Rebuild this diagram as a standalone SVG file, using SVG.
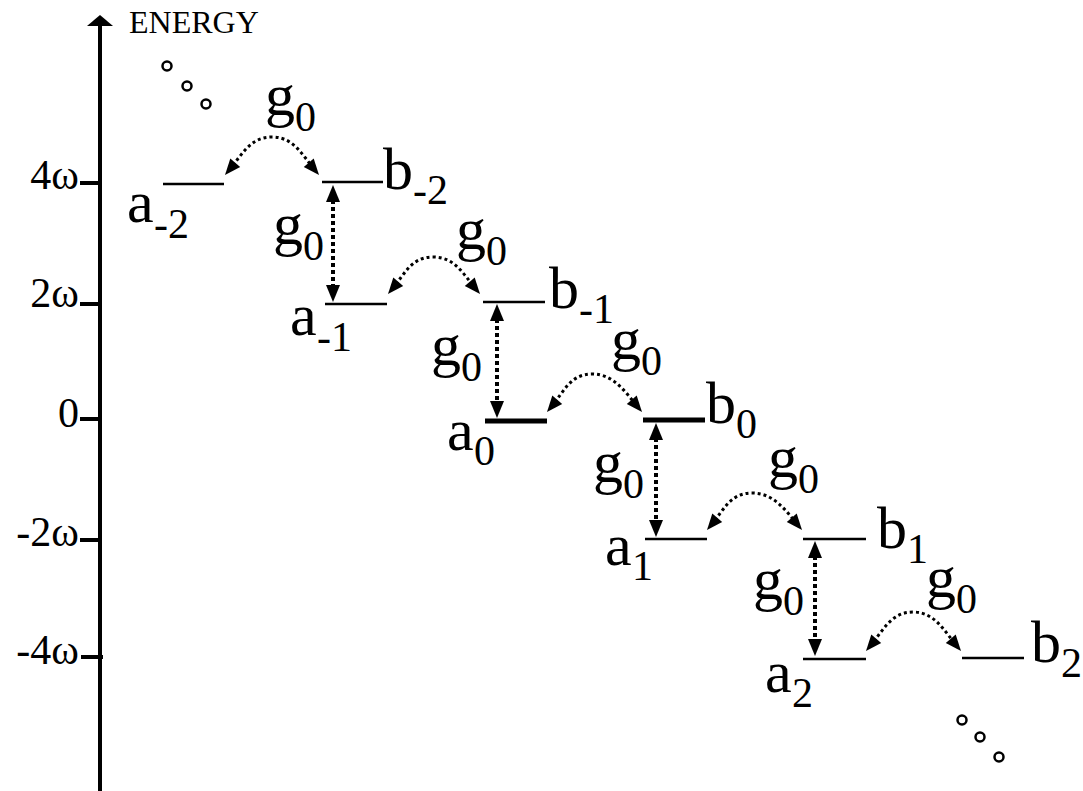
<svg xmlns="http://www.w3.org/2000/svg" xmlns:xlink="http://www.w3.org/1999/xlink" width="1083" height="791" viewBox="0 0 1083 791">
<defs>
<path id="hU" d="M0,0 L-7,17 L7,17 z" fill="#000"/>
<path id="hD" d="M0,0 L-7,-17 L7,-17 z" fill="#000"/>
<path id="hL" d="M0,0 L15.2,-8.1 L5.3,-16.5 z" fill="#000"/>
<path id="hR" d="M0,0 L-5.3,-16.5 L-15.2,-8.1 z" fill="#000"/>
</defs>
<rect width="1083" height="791" fill="#fff"/>
<g id="axis">
<line x1="100" y1="22" x2="100" y2="791" stroke="#000" stroke-width="4"/>
<path d="M100,15 L113,26 L87,26 z" fill="#000"/>
<text x="129" y="33" font-family="Liberation Serif" font-size="32">ENERGY</text>
<line x1="80" y1="183" x2="102" y2="183" stroke="#000" stroke-width="4"/>
<line x1="80" y1="304" x2="102" y2="304" stroke="#000" stroke-width="4"/>
<line x1="80" y1="419" x2="102" y2="419" stroke="#000" stroke-width="4"/>
<line x1="80" y1="540" x2="102" y2="540" stroke="#000" stroke-width="4"/>
<line x1="81" y1="657" x2="103" y2="657" stroke="#000" stroke-width="4"/>
<text x="79" y="189" text-anchor="end" font-family="Liberation Serif" font-size="42">4ω</text>
<text x="79" y="307" text-anchor="end" font-family="Liberation Serif" font-size="42">2ω</text>
<text x="79" y="427" text-anchor="end" font-family="Liberation Serif" font-size="42">0</text>
<text x="79" y="546" text-anchor="end" font-family="Liberation Serif" font-size="42">-2ω</text>
<text x="79" y="664" text-anchor="end" font-family="Liberation Serif" font-size="42">-4ω</text>
</g>
<g id="dots-top" fill="none" stroke="#000" stroke-width="2.5">
<circle cx="167" cy="66" r="4.5"/>
<circle cx="187" cy="86" r="4.5"/>
<circle cx="206" cy="104" r="4.5"/>
</g>
<g id="dots-bottom" fill="none" stroke="#000" stroke-width="2.5">
<circle cx="962" cy="720" r="4.5"/>
<circle cx="980" cy="737" r="4.5"/>
<circle cx="999" cy="757" r="4.5"/>
</g>
<g id="a-2"><line x1="163" y1="184" x2="224" y2="184" stroke="#000" stroke-width="2.5"/><text x="127" y="222" font-family="Liberation Serif" font-size="60">a</text><text x="154" y="238" font-family="Liberation Serif" font-size="42">-2</text></g>
<g id="b-2"><line x1="322" y1="182" x2="383" y2="182" stroke="#000" stroke-width="2.5"/><text x="383" y="189" font-family="Liberation Serif" font-size="60">b</text><text x="413" y="204" font-family="Liberation Serif" font-size="42">-2</text></g>
<g id="a-1"><line x1="325" y1="304" x2="387" y2="304" stroke="#000" stroke-width="2.5"/><text x="290" y="335" font-family="Liberation Serif" font-size="60">a</text><text x="317" y="351" font-family="Liberation Serif" font-size="42">-1</text></g>
<g id="b-1"><line x1="483" y1="302" x2="545" y2="302" stroke="#000" stroke-width="2.5"/><text x="549" y="308" font-family="Liberation Serif" font-size="60">b</text><text x="579" y="323" font-family="Liberation Serif" font-size="42">-1</text></g>
<g id="a0"><line x1="485" y1="421" x2="547" y2="421" stroke="#000" stroke-width="5"/><text x="447" y="450" font-family="Liberation Serif" font-size="60">a</text><text x="474" y="465" font-family="Liberation Serif" font-size="42">0</text></g>
<g id="b0"><line x1="643" y1="420" x2="705" y2="420" stroke="#000" stroke-width="5"/><text x="706" y="423" font-family="Liberation Serif" font-size="60">b</text><text x="736" y="438" font-family="Liberation Serif" font-size="42">0</text></g>
<g id="a1"><line x1="645" y1="539" x2="707" y2="539" stroke="#000" stroke-width="2.5"/><text x="605" y="565" font-family="Liberation Serif" font-size="60">a</text><text x="632" y="580" font-family="Liberation Serif" font-size="42">1</text></g>
<g id="b1"><line x1="803" y1="539" x2="866" y2="539" stroke="#000" stroke-width="2.5"/><text x="877" y="548" font-family="Liberation Serif" font-size="60">b</text><text x="907" y="563" font-family="Liberation Serif" font-size="42">1</text></g>
<g id="a2"><line x1="803" y1="659" x2="866" y2="659" stroke="#000" stroke-width="2.5"/><text x="765" y="692" font-family="Liberation Serif" font-size="60">a</text><text x="792" y="707" font-family="Liberation Serif" font-size="42">2</text></g>
<g id="b2"><line x1="962" y1="658" x2="1024" y2="658" stroke="#000" stroke-width="2.5"/><text x="1031" y="662" font-family="Liberation Serif" font-size="60">b</text><text x="1061" y="677" font-family="Liberation Serif" font-size="42">2</text></g>
<g id="connectors">
<g fill="none" stroke="#000" stroke-width="3" stroke-dasharray="3 3">
<path d="M229,170 C242,155 250,137 272,137 C294,137 302,155 315,170"/>
<path d="M392,289 C405,274 411,257 433,257 C455,257 463,274 476,289"/>
<path d="M551,407 C564,392 570,374 592,374 C614,374 625,392 638,407"/>
<path d="M711,525 C724,510 730,493 752,493 C774,493 785,510 798,525"/>
<path d="M870,646 C883,631 891,612 913,612 C935,612 944,631 957,646"/>
</g>
<g fill="none" stroke="#000" stroke-width="4" stroke-dasharray="4 3">
<path d="M333,200 L333,287"/>
<path d="M497,319 L497,403"/>
<path d="M656,438 L656,522"/>
<path d="M815,556 L815,641"/>
</g>
<use xlink:href="#hL" x="225" y="175"/><use xlink:href="#hR" x="319" y="175"/>
<use xlink:href="#hL" x="388" y="294"/><use xlink:href="#hR" x="480" y="294"/>
<use xlink:href="#hL" x="547" y="412"/><use xlink:href="#hR" x="642" y="412"/>
<use xlink:href="#hL" x="707" y="530"/><use xlink:href="#hR" x="802" y="530"/>
<use xlink:href="#hL" x="866" y="651"/><use xlink:href="#hR" x="961" y="651"/>
<use xlink:href="#hU" x="333" y="185"/><use xlink:href="#hD" x="333" y="302"/>
<use xlink:href="#hU" x="497" y="304"/><use xlink:href="#hD" x="497" y="418"/>
<use xlink:href="#hU" x="656" y="423"/><use xlink:href="#hD" x="656" y="537"/>
<use xlink:href="#hU" x="815" y="541"/><use xlink:href="#hD" x="815" y="656"/>
</g>
<g id="couplings">
<text x="265" y="115" font-family="Liberation Serif" font-size="60">g</text><text x="295" y="131" font-family="Liberation Serif" font-size="42">0</text>
<text x="456" y="249" font-family="Liberation Serif" font-size="60">g</text><text x="486" y="265" font-family="Liberation Serif" font-size="42">0</text>
<text x="611" y="359" font-family="Liberation Serif" font-size="60">g</text><text x="641" y="375" font-family="Liberation Serif" font-size="42">0</text>
<text x="768" y="477" font-family="Liberation Serif" font-size="60">g</text><text x="798" y="493" font-family="Liberation Serif" font-size="42">0</text>
<text x="926" y="597" font-family="Liberation Serif" font-size="60">g</text><text x="956" y="613" font-family="Liberation Serif" font-size="42">0</text>
<text x="273" y="244" font-family="Liberation Serif" font-size="60">g</text><text x="303" y="260" font-family="Liberation Serif" font-size="42">0</text>
<text x="431" y="365" font-family="Liberation Serif" font-size="60">g</text><text x="461" y="381" font-family="Liberation Serif" font-size="42">0</text>
<text x="593" y="482" font-family="Liberation Serif" font-size="60">g</text><text x="623" y="498" font-family="Liberation Serif" font-size="42">0</text>
<text x="753" y="599" font-family="Liberation Serif" font-size="60">g</text><text x="783" y="615" font-family="Liberation Serif" font-size="42">0</text>
</g>
</svg>
